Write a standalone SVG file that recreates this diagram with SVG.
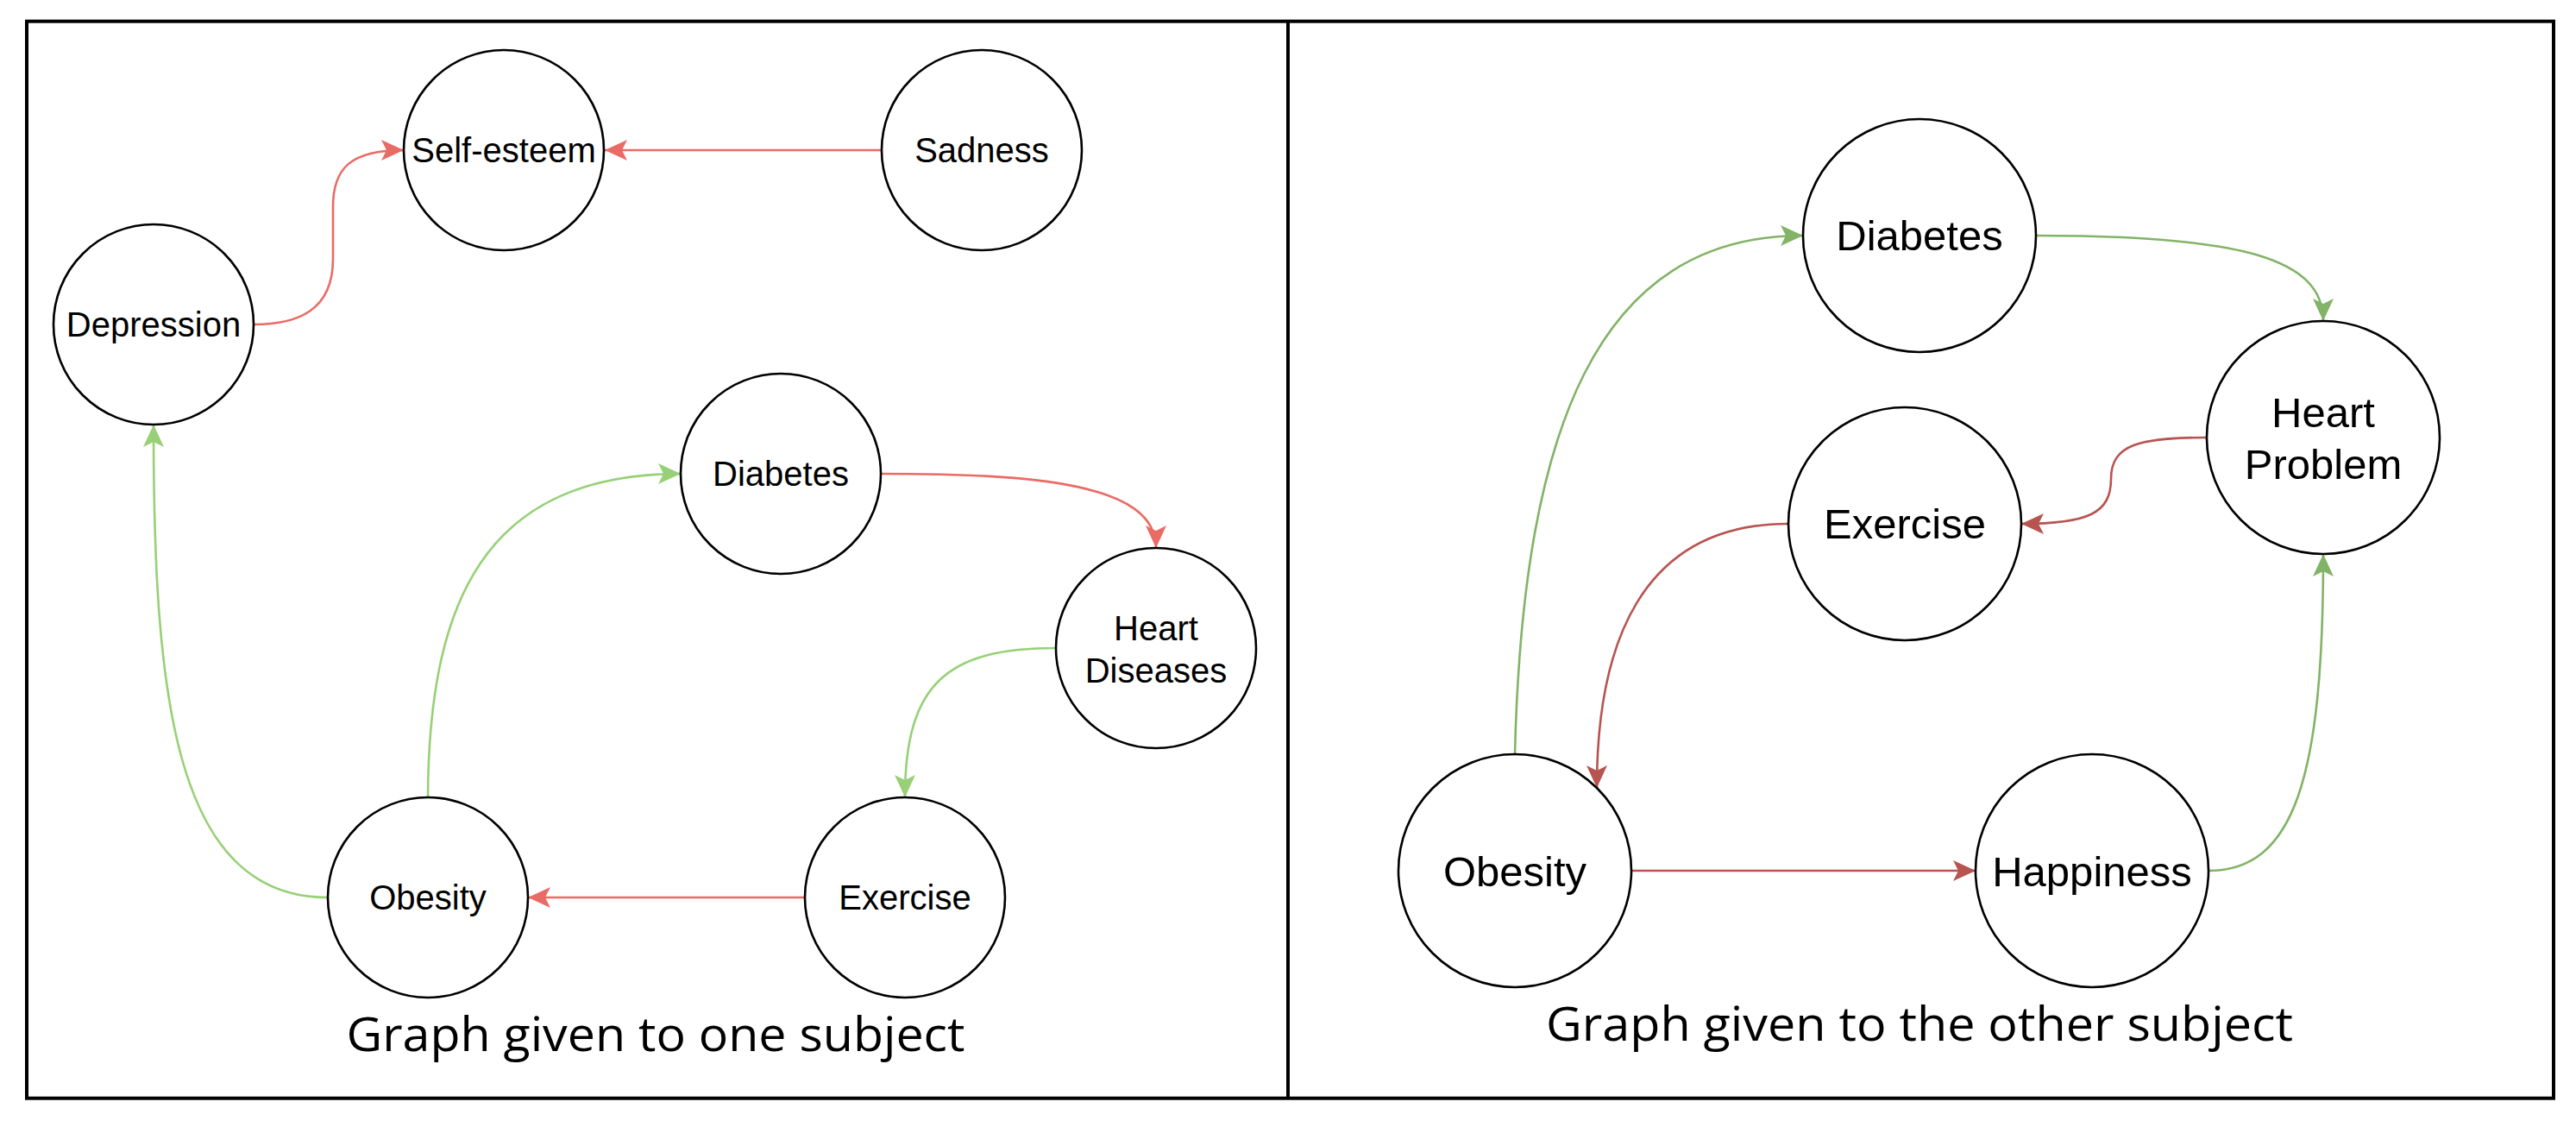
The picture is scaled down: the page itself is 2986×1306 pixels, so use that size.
<svg xmlns="http://www.w3.org/2000/svg" width="2986" height="1306" viewBox="0 0 2986 1306">
<style>
.node circle{fill:#fff;stroke:#000;stroke-width:2.6}
.lbl{font-family:"Liberation Sans",Arial,sans-serif;fill:#000;text-anchor:middle}
.l1{font-size:40px}
.l2{font-size:49px}
.cap{font-family:"Open Sans","Noto Sans",sans-serif;font-size:54px;font-weight:500;fill:#000;text-anchor:middle}
.e{fill:none;stroke-width:2.6}
.lr{stroke:#EA6B66}
.lg{stroke:#97D077}
.dr{stroke:#B85450}
.dg{stroke:#82B366}
.frame{fill:none;stroke:#000;stroke-width:4}
</style>
<defs>
<marker id="mlr" markerUnits="userSpaceOnUse" markerWidth="28" markerHeight="26" refX="26" refY="12" orient="auto"><path d="M0,0 L26,12 L0,24 L6,12 z" fill="#EA6B66"/></marker>
<marker id="mlg" markerUnits="userSpaceOnUse" markerWidth="28" markerHeight="26" refX="26" refY="12" orient="auto"><path d="M0,0 L26,12 L0,24 L6,12 z" fill="#97D077"/></marker>
<marker id="mdr" markerUnits="userSpaceOnUse" markerWidth="28" markerHeight="26" refX="26" refY="12" orient="auto"><path d="M0,0 L26,12 L0,24 L6,12 z" fill="#B85450"/></marker>
<marker id="mdg" markerUnits="userSpaceOnUse" markerWidth="28" markerHeight="26" refX="26" refY="12" orient="auto"><path d="M0,0 L26,12 L0,24 L6,12 z" fill="#82B366"/></marker>
</defs>
<rect width="2986" height="1306" fill="#fff"/>
<g id="frame">
<rect class="frame" x="31" y="24.7" width="2929" height="1248"/>
<line class="frame" x1="1493" y1="24.7" x2="1493" y2="1272.7"/>
</g>
<g id="connectors">
<path class="e lr" d="M1022,174 L701,174" marker-end="url(#mlr)"/>
<path class="e lr" d="M294,376 C345,376 386,360 386,300 L386,240 C386,195 406,174 468,174" marker-end="url(#mlr)"/>
<path class="e lg" d="M380,1040 C200,1040 178,800 178,492" marker-end="url(#mlg)"/>
<path class="e lg" d="M496,924 C497,700 560,549 789,549" marker-end="url(#mlg)"/>
<path class="e lr" d="M1021,549 C1200,549 1340,560 1340,635" marker-end="url(#mlr)"/>
<path class="e lg" d="M1224,751 C1100,751 1049,790 1049,924" marker-end="url(#mlg)"/>
<path class="e lr" d="M933,1040 L612,1040" marker-end="url(#mlr)"/>
<path class="e dg" d="M1756,874 C1765,500 1850,273 2090,273" marker-end="url(#mdg)"/>
<path class="e dg" d="M2360,273 C2600,273 2693,300 2693,372" marker-end="url(#mdg)"/>
<path class="e dr" d="M2558,507 C2480,507 2447,515 2447,555 C2447,595 2420,607 2343,607" marker-end="url(#mdr)"/>
<path class="e dr" d="M2073,607 C1900,607 1851,750 1851,913" marker-end="url(#mdr)"/>
<path class="e dr" d="M1891,1009 L2290,1009" marker-end="url(#mdr)"/>
<path class="e dg" d="M2560,1009 C2660,1009 2693,900 2693,642" marker-end="url(#mdg)"/>
</g>
<g id="n-selfesteem" class="node"><circle cx="584" cy="174" r="116"/><text class="lbl l1" x="584" y="188">Self-esteem</text></g>
<g id="n-sadness" class="node"><circle cx="1138" cy="174" r="116"/><text class="lbl l1" x="1138" y="188">Sadness</text></g>
<g id="n-depression" class="node"><circle cx="178" cy="376" r="116"/><text class="lbl l1" x="178" y="390">Depression</text></g>
<g id="n-diabetes1" class="node"><circle cx="905" cy="549" r="116"/><text class="lbl l1" x="905" y="563">Diabetes</text></g>
<g id="n-heartdiseases" class="node"><circle cx="1340" cy="751" r="116"/><text class="lbl l1" x="1340" y="742">Heart</text><text class="lbl l1" x="1340" y="791">Diseases</text></g>
<g id="n-obesity1" class="node"><circle cx="496" cy="1040" r="116"/><text class="lbl l1" x="496" y="1054">Obesity</text></g>
<g id="n-exercise1" class="node"><circle cx="1049" cy="1040" r="116"/><text class="lbl l1" x="1049" y="1054">Exercise</text></g>
<g id="n-diabetes2" class="node"><circle cx="2225" cy="273" r="135"/><text class="lbl l2" x="2225" y="290">Diabetes</text></g>
<g id="n-heartproblem" class="node"><circle cx="2693" cy="507" r="135"/><text class="lbl l2" x="2693" y="495">Heart</text><text class="lbl l2" x="2693" y="555">Problem</text></g>
<g id="n-exercise2" class="node"><circle cx="2208" cy="607" r="135"/><text class="lbl l2" x="2208" y="624">Exercise</text></g>
<g id="n-obesity2" class="node"><circle cx="1756" cy="1009" r="135"/><text class="lbl l2" x="1756" y="1027">Obesity</text></g>
<g id="n-happiness" class="node"><circle cx="2425" cy="1009" r="135"/><text class="lbl l2" x="2425" y="1027">Happiness</text></g>
<g id="captions">
<text class="cap" x="760" y="1218" textLength="717" lengthAdjust="spacingAndGlyphs">Graph given to one subject</text>
<text class="cap" x="2225" y="1206" textLength="866" lengthAdjust="spacingAndGlyphs">Graph given to the other subject</text>
</g>
</svg>
